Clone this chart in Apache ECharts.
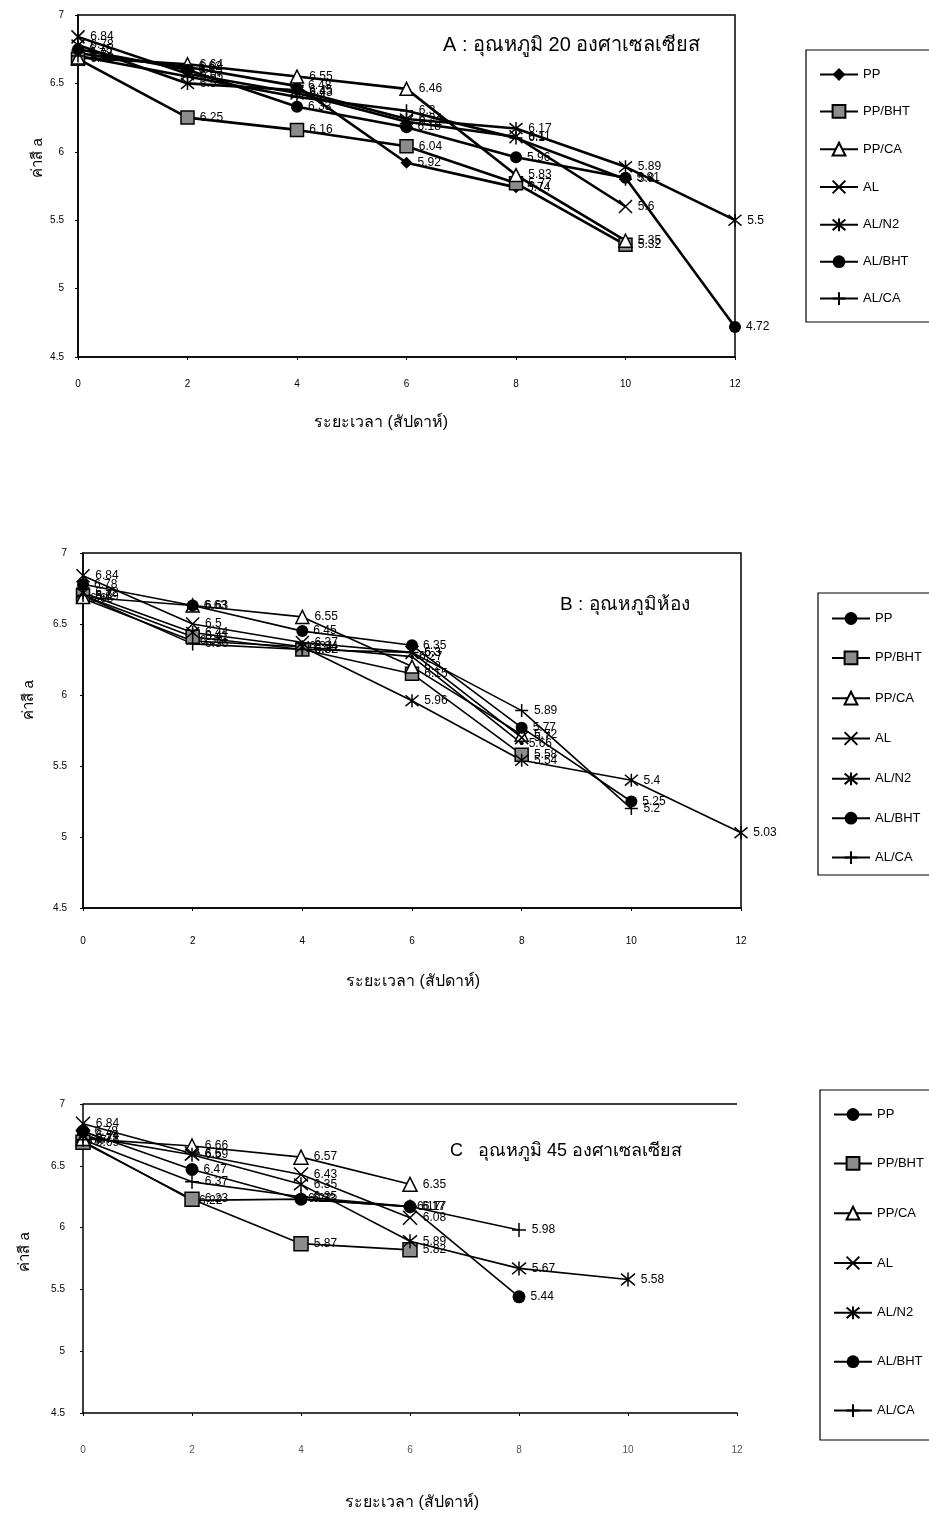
<!DOCTYPE html>
<html><head><meta charset="utf-8">
<script src="https://cdn.jsdelivr.net/npm/echarts@6/dist/echarts.min.js"></script>
<style>html,body{margin:0;padding:0;background:#fff}#c{width:929px;height:1520px}</style>
</head><body><div id="c"></div><script>
// ---- data ----
const weeks = [0, 2, 4, 6, 8, 10, 12];
const seriesNames = ['PP', 'PP/BHT', 'PP/CA', 'AL', 'AL/N2', 'AL/BHT', 'AL/CA'];

// Panel A : 20 °C
const a_PP     = [6.72, 6.62, 6.48, 5.92, 5.74, null, null];
const a_PP_BHT = [6.68, 6.25, 6.16, 6.04, 5.77, 5.32, null];
const a_PP_CA  = [6.69, 6.64, 6.55, 6.46, 5.83, 5.35, null];
const a_AL     = [6.84, 6.57, 6.43, 6.22, 6.11, 5.6, null];
const a_AL_N2  = [6.78, 6.5, 6.45, 6.24, 6.17, 5.89, 5.5];
const a_AL_BHT = [6.75, 6.6, 6.33, 6.18, 5.96, 5.81, 4.72];
const a_AL_CA  = [6.7, 6.55, 6.4, 6.3, 6.1, 5.8, null];

// Panel B : room temperature
const b_PP     = [6.68, 6.38, 6.34, 6.27, 5.66, null, null];
const b_PP_BHT = [6.7, 6.41, 6.32, 6.15, 5.58, null, null];
const b_PP_CA  = [6.69, 6.63, 6.55, 6.2, 5.72, null, null];
const b_AL     = [6.84, 6.5, 6.37, 6.3, 5.7, null, null];
const b_AL_N2  = [6.72, 6.44, 6.34, 5.96, 5.54, 5.4, 5.03];
const b_AL_BHT = [6.78, 6.63, 6.45, 6.35, 5.77, 5.25, null];
const b_AL_CA  = [6.7, 6.36, 6.32, 6.3, 5.89, 5.2, null];

// Panel C : 45 °C
const c_PP     = [6.7, 6.22, 6.23, 6.17, null, null, null];
const c_PP_BHT = [6.69, 6.23, 5.87, 5.82, null, null, null];
const c_PP_CA  = [6.72, 6.66, 6.57, 6.35, null, null, null];
const c_AL     = [6.84, 6.6, 6.43, 6.08, null, null, null];
const c_AL_N2  = [6.74, 6.59, 6.35, 5.89, 5.67, 5.58, null];
const c_AL_BHT = [6.78, 6.47, 6.23, 6.17, 5.44, null, null];
const c_AL_CA  = [6.71, 6.37, 6.25, 6.17, 5.98, null, null];

const titleA = 'A : อุณหภูมิ 20 องศาเซลเซียส';
const titleB = 'B : อุณหภูมิห้อง';
const titleC = 'C   อุณหภูมิ 45 องศาเซลเซียส';
const yName = 'ค่าสี a';
const xName = 'ระยะเวลา (สัปดาห์)';

// ---- styling ----
const FONT = "'Liberation Sans', 'DejaVu Sans', 'Noto Sans', sans-serif";
const SYM = {
  'PP': 'diamond',
  'PP/BHT': 'rect',
  'PP/CA': 'triangle',
  'AL': 'path://M0,0L10,10M0,10L10,0',
  'AL/N2': 'path://M0,0L10,10M0,10L10,0M5,-1L5,11',
  'AL/BHT': 'circle',
  'AL/CA': 'path://M5,0L5,10M0,5L10,5'
};
function itemStyleFor(n) {
  if (n === 'PP/BHT') return { color: '#8c8c8c', borderColor: '#000', borderWidth: 1.5 };
  if (n === 'PP/CA') return { color: '#fff', borderColor: '#000', borderWidth: 1.5 };
  if (n === 'AL' || n === 'AL/N2' || n === 'AL/CA') return { color: '#000', borderColor: '#000', borderWidth: 1.5 };
  return { color: '#000' };
}

const panels = [
  { key: 'A', arrays: [a_PP, a_PP_BHT, a_PP_CA, a_AL, a_AL_N2, a_AL_BHT, a_AL_CA], lw: 2.6, ppSym: 'diamond', ppSize: 12, size: 13 },
  { key: 'B', arrays: [b_PP, b_PP_BHT, b_PP_CA, b_AL, b_AL_N2, b_AL_BHT, b_AL_CA], lw: 1.6, ppSym: 'circle', ppSize: 4, size: 13 },
  { key: 'C', arrays: [c_PP, c_PP_BHT, c_PP_CA, c_AL, c_AL_N2, c_AL_BHT, c_AL_CA], lw: 1.6, ppSym: 'circle', ppSize: 4, size: 14 }
];

const series = [];
panels.forEach((p, gi) => {
  seriesNames.forEach((n, si) => {
    const vals = p.arrays[si];
    const data = [];
    weeks.forEach((w, i) => { if (vals[i] != null) data.push([w, vals[i]]); });
    series.push({
      name: p.key + '|' + n,
      type: 'line',
      xAxisIndex: gi, yAxisIndex: gi,
      data: data,
      symbol: n === 'PP' ? p.ppSym : SYM[n],
      symbolSize: n === 'PP' ? p.ppSize : (n === 'AL/BHT' ? p.size - 1 : p.size),
      itemStyle: itemStyleFor(n),
      lineStyle: { color: '#000', width: p.lw },
      label: { show: true, position: 'right', distance: 5, fontSize: 12, fontFamily: FONT, color: '#000',
               formatter: q => String(q.value[1]) },
      emphasis: { disabled: true },
      z: 2
    });
  });
});

const grids = [
  { left: 78, top: 15, width: 657, height: 342, show: true, borderColor: '#000', borderWidth: 1.5 },
  { left: 83, top: 553, width: 658, height: 355, show: true, borderColor: '#000', borderWidth: 1.5 },
  { left: 83, top: 1104, width: 654, height: 309, show: false }
];
const xMargins = [22, 28, 32];
const yMargins = [14, 16, 18];

function xAxis(i) {
  return {
    type: 'value', gridIndex: i, min: 0, max: 12, interval: 2,
    axisLine: { show: true, lineStyle: { color: '#000', width: 1.5 } },
    axisTick: { show: true, length: 3, lineStyle: { color: '#000' } },
    axisLabel: { color: i === 2 ? '#555' : '#000', fontSize: 10, fontFamily: FONT, margin: xMargins[i] },
    splitLine: { show: false }
  };
}
function yAxis(i) {
  return {
    type: 'value', gridIndex: i, min: 4.5, max: 7, interval: 0.5,
    axisLine: { show: true, lineStyle: { color: '#000', width: 1.5 } },
    axisTick: { show: true, length: 3, lineStyle: { color: '#000' } },
    axisLabel: { color: '#000', fontSize: 10, fontFamily: FONT, margin: yMargins[i] },
    splitLine: { show: false }
  };
}

function legend(key, left, top, gap) {
  return {
    data: seriesNames.map(n => key + '|' + n),
    formatter: n => n.split('|')[1],
    orient: 'vertical', left: left, top: top,
    itemWidth: 38, itemHeight: 16, itemGap: gap,
    selectedMode: false,
    textStyle: { fontSize: 13, fontFamily: FONT, color: '#000' }
  };
}

function text(x, y, t, size, rot) {
  return { type: 'text', x: x, y: y, rotation: rot || 0, z: 10,
    style: { text: t, fontSize: size, fontFamily: FONT, fill: '#000', textAlign: 'center', textVerticalAlign: 'middle' } };
}
function frame(x, y, w, h) {
  return { type: 'rect', shape: { x: x, y: y, width: w, height: h }, z: 0,
    style: { fill: 'none', stroke: '#000', lineWidth: 1.2 } };
}
function title(x, y, t, size) {
  return { type: 'text', x: x, y: y, z: 10,
    style: { text: t, fontSize: size, fontFamily: FONT, fill: '#000', textAlign: 'left', textVerticalAlign: 'middle' } };
}

const chart = echarts.init(document.getElementById('c'), null, { renderer: 'canvas' });
chart.setOption({
  animation: false,
  backgroundColor: '#fff',
  grid: grids,
  xAxis: [xAxis(0), xAxis(1), xAxis(2)],
  yAxis: [yAxis(0), yAxis(1), yAxis(2)],
  legend: [legend('A', 814, 63, 23), legend('B', 826, 607, 25.5), legend('C', 828, 1103, 35)],
  series: series,
  graphic: [
    frame(806, 50, 200, 272),
    frame(818, 593, 200, 282),
    frame(820, 1090, 200, 350),
    { type: 'line', shape: { x1: 83, y1: 1104, x2: 737, y2: 1104 }, style: { stroke: '#000', lineWidth: 1.5 } },
    title(443, 45, titleA, 20),
    title(560, 605, titleB, 19),
    title(450, 1151, titleC, 18),
    text(38, 158, yName, 15, Math.PI / 2),
    text(29, 700, yName, 15, Math.PI / 2),
    text(25, 1252, yName, 15, Math.PI / 2),
    text(381, 423, xName, 16),
    text(413, 982, xName, 16),
    text(412, 1503, xName, 16)
  ]
});
</script></body></html>
